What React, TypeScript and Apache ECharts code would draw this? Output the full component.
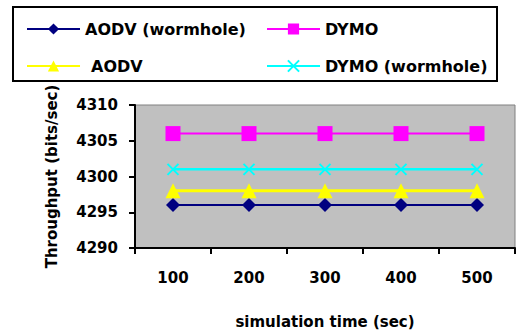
import React, { useEffect, useRef } from "react";
import * as echarts from "echarts";

const categories = ["100", "200", "300", "400", "500"];
const aodvWormhole = [4296, 4296, 4296, 4296, 4296];
const dymo = [4306, 4306, 4306, 4306, 4306];
const aodv = [4298, 4298, 4298, 4298, 4298];
const dymoWormhole = [4301, 4301, 4301, 4301, 4301];

const FONT = "DejaVu Sans";

export default function App() {
  const ref = useRef<HTMLDivElement>(null);
  useEffect(() => {
    const chart = echarts.init(ref.current!, null, { renderer: "svg" });
    const legendText = { fontFamily: FONT, fontWeight: "bold", fontSize: 16, color: "#000" };
    const leg = (name: string, left: number, top: number, extra: any = {}) => ({
      data: [name],
      left,
      top,
      itemWidth: 53,
      itemHeight: 14,
      itemGap: 0,
      z: 20,
      textStyle: { ...legendText, ...(extra.textStyle || {}) },
    });
    chart.setOption({
      animation: false,
      backgroundColor: "#fff",
      legend: [
        leg("AODV (wormhole)", 21, 16),
        leg("DYMO", 261, 16),
        leg("AODV", 21, 53, { textStyle: { padding: [0, 0, 0, 6] } }),
        leg("DYMO (wormhole)", 261, 53),
      ],
      graphic: [
        {
          type: "rect",
          z: 10,
          shape: { x: 13, y: 7, width: 484, height: 74 },
          style: { fill: "#fff", stroke: "#000", lineWidth: 2 },
        },
      ],
      grid: {
        left: 135,
        right: 2,
        top: 105,
        bottom: 88,
        show: true,
        backgroundColor: "#c0c0c0",
        borderColor: "#808080",
        borderWidth: 1,
      },
      xAxis: {
        type: "category",
        data: categories,
        boundaryGap: true,
        name: "simulation time (sec)",
        nameLocation: "middle",
        nameGap: 66,
        nameTextStyle: { fontFamily: FONT, fontWeight: "bold", fontSize: 15, color: "#000" },
        axisLine: { lineStyle: { color: "#000", width: 2 } },
        axisTick: { show: true, length: 6, lineStyle: { color: "#000", width: 2 } },
        axisLabel: { margin: 22, fontFamily: FONT, fontWeight: "bold", fontSize: 15, color: "#000" },
        splitLine: { show: false },
      },
      yAxis: {
        type: "value",
        min: 4290,
        max: 4310,
        interval: 5,
        name: "Throughput (bits/sec)",
        nameLocation: "middle",
        nameGap: 76,
        nameTextStyle: { fontFamily: FONT, fontWeight: "bold", fontSize: 15, color: "#000" },
        axisLine: { show: true, lineStyle: { color: "#000", width: 2 } },
        axisTick: { show: true, length: 6, lineStyle: { color: "#000", width: 2 } },
        axisLabel: {
          margin: 17,
          formatter: (v: number) => String(v),
          fontFamily: FONT,
          fontWeight: "bold",
          fontSize: 15,
          color: "#000",
        },
        splitLine: { show: false },
      },
      series: [
        {
          name: "AODV (wormhole)",
          type: "line",
          data: aodvWormhole,
          symbol: "diamond",
          symbolSize: 14,
          itemStyle: { color: "#000080" },
          lineStyle: { color: "#000080", width: 2 },
        },
        {
          name: "DYMO",
          type: "line",
          data: dymo,
          symbol: "rect",
          symbolSize: 15,
          itemStyle: { color: "#ff00ff" },
          lineStyle: { color: "#ff00ff", width: 2 },
        },
        {
          name: "AODV",
          type: "line",
          data: aodv,
          symbol: "triangle",
          symbolSize: [15, 15],
          itemStyle: { color: "#ffff00" },
          lineStyle: { color: "#ffff00", width: 3 },
        },
        {
          name: "DYMO (wormhole)",
          type: "line",
          data: dymoWormhole,
          symbol: "path://M0,0L10,10M10,0L0,10",
          symbolSize: 11,
          itemStyle: { color: "#00ffff", borderColor: "#00ffff", borderWidth: 2 },
          lineStyle: { color: "#00ffff", width: 2.5 },
        },
      ],
    });
    return () => chart.dispose();
  }, []);
  return <div ref={ref} style={{ width: 517, height: 336, position: "absolute", left: 0, top: 0 }} />;
}
